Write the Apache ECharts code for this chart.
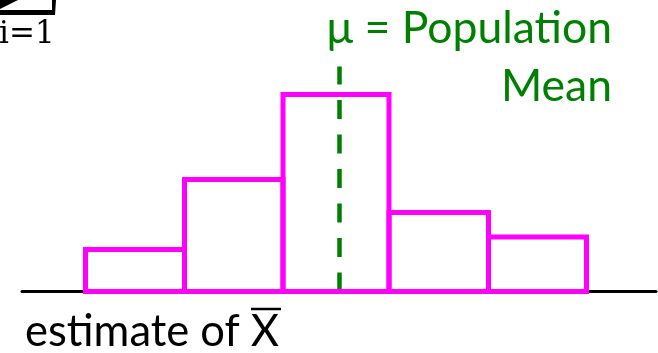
<!DOCTYPE html>
<html>
<head>
<meta charset="utf-8">
<script src="https://cdn.jsdelivr.net/npm/echarts@6/dist/echarts.min.js"></script>
<style>
  html, body { margin: 0; padding: 0; background: #fff; }
  #chart { width: 658px; height: 353px; }
</style>
</head>
<body>
<div id="chart"></div>
<script>
// bin edges along the estimate axis, and bar heights
const binEdges = [6.35, 16.25, 26.1, 36.7, 46.65, 56.45];
const binCounts = [4.2, 11.2, 19.7, 7.9, 5.45];
const meanValue = 31.7;
const meanLabel = ['μ = Population', 'Mean'];
const axisLabel = 'estimate of X';
const sumLimit = 'i=1';

const chart = echarts.init(document.getElementById('chart'), null, { renderer: 'canvas' });

const binData = binCounts.map((c, i) => [binEdges[i], binEdges[i + 1], c]);

const green = '#008000';
const magenta = '#FF00FF';

const option = {
  backgroundColor: '#fff',
  animation: false,
  grid: { left: 22, right: 2, top: 66.5, bottom: 61.5 },
  xAxis: {
    type: 'value',
    min: 0,
    max: 63.4,
    axisLine: { show: true, lineStyle: { color: '#000', width: 3 } },
    axisTick: { show: false },
    axisLabel: { show: false },
    splitLine: { show: false }
  },
  yAxis: {
    type: 'value',
    min: 0,
    max: 22.5,
    show: false
  },
  series: [{
    type: 'custom',
    data: binData,
    encode: { x: [0, 1], y: 2 },
    renderItem: (params, api) => {
      const p0 = api.coord([api.value(0), api.value(2)]);
      const p1 = api.coord([api.value(1), 0]);
      return {
        type: 'rect',
        shape: { x: p0[0], y: p0[1], width: p1[0] - p0[0], height: p1[1] - p0[1] },
        style: { fill: 'none', stroke: magenta, lineWidth: 5 }
      };
    },
    z: 3,
    markLine: {
      silent: true,
      symbol: 'none',
      label: { show: false },
      lineStyle: { color: green, width: 4.5, type: [19, 15.5] },
      data: [{ xAxis: meanValue }],
      z: 2
    }
  }],
  graphic: [
    // bottom of the summation sign, cut off by the frame
    {
      type: 'polygon',
      shape: { points: [[0, 0], [18, 0], [0, 9]] },
      style: { fill: '#000' }
    },
    {
      type: 'polygon',
      shape: { points: [[0, 10], [52, 10], [52, 0], [56, 0], [55, 15], [0, 15]] },
      style: { fill: '#000' }
    },
    {
      type: 'text',
      style: {
        text: sumLimit, x: -1, y: 35, font: '31px "DejaVu Serif"',
        fill: '#000', textAlign: 'left', verticalAlign: 'middle'
      }
    },
    {
      type: 'text',
      style: {
        text: meanLabel[0], x: 612, y: 29, font: '44.5px Lato',
        fill: green, textAlign: 'right', verticalAlign: 'middle'
      }
    },
    {
      type: 'text',
      style: {
        text: meanLabel[1], x: 612, y: 87, font: '44.5px Lato',
        fill: green, textAlign: 'right', verticalAlign: 'middle'
      }
    },
    {
      type: 'text',
      style: {
        text: axisLabel, x: 25, y: 332, font: '43.5px Lato',
        fill: '#000', textAlign: 'left', verticalAlign: 'middle'
      }
    },
    {
      type: 'line',
      shape: { x1: 251, y1: 309, x2: 281, y2: 309 },
      style: { stroke: '#000', lineWidth: 2.5 }
    }
  ]
};

chart.setOption(option);
window.addEventListener('resize', () => chart.resize());
</script>
</body>
</html>
